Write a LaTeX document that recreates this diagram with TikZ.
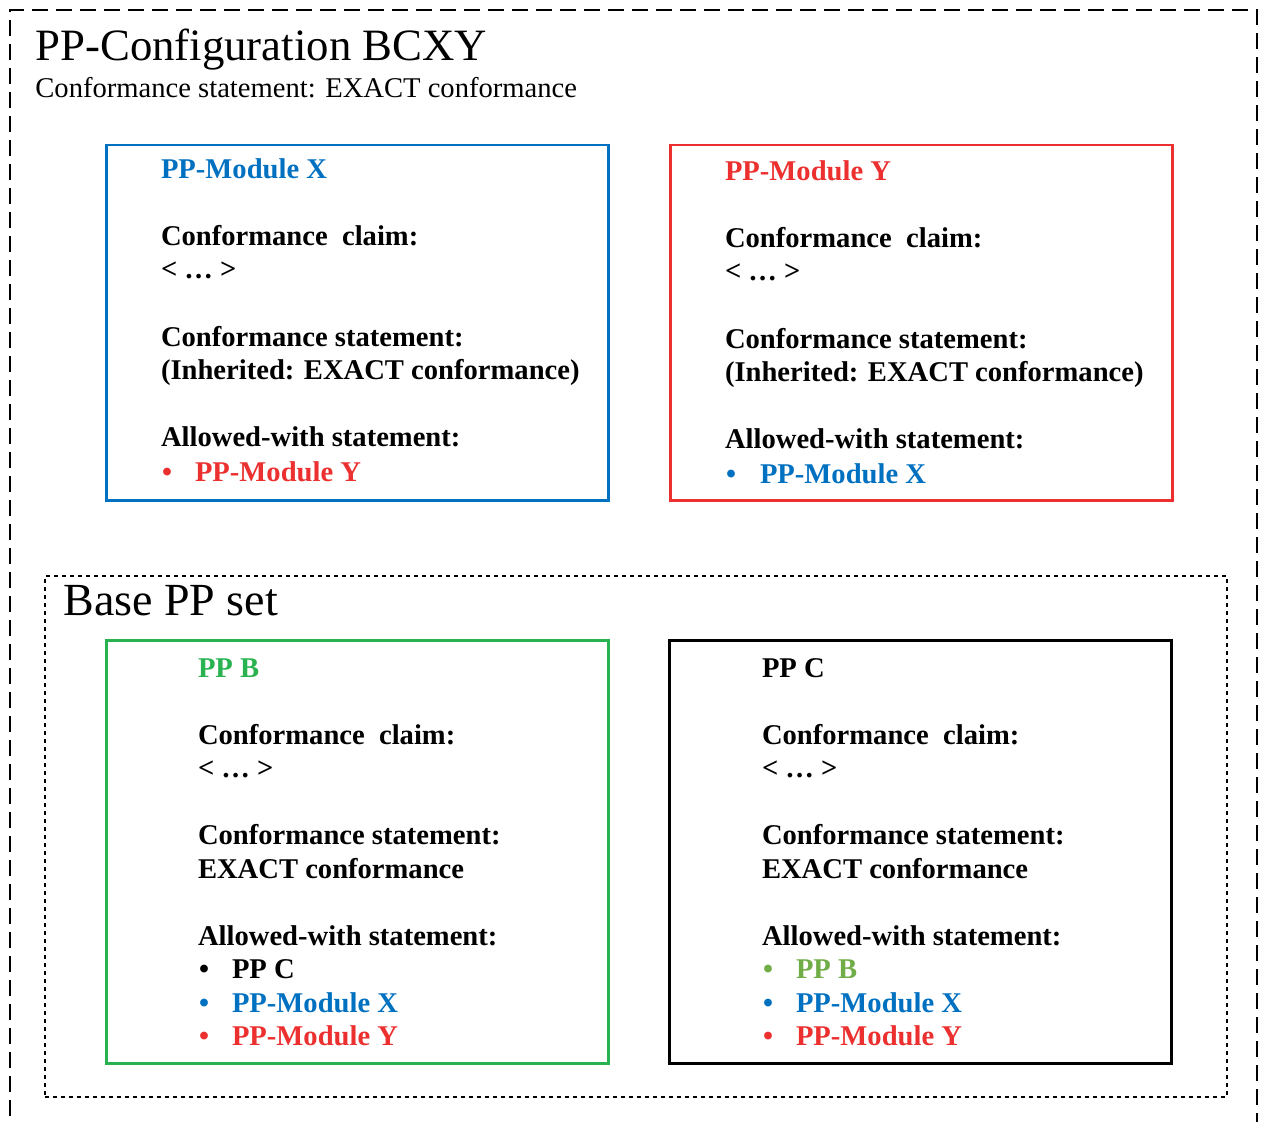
\documentclass[tikz,border=0pt]{standalone}
\usepackage{fontspec}
\setmainfont{Liberation Serif}
\definecolor{pblue}{RGB}{0,112,192}
\definecolor{pred}{RGB}{236,48,48}
\definecolor{pgreen}{RGB}{40,178,80}
\definecolor{plgreen}{RGB}{112,173,71}
\begin{document}
\begin{tikzpicture}[x=0.5pt,y=-0.5pt,
  txt/.style={anchor=base west, inner sep=0pt, outer sep=0pt, font=\fontsize{14.3}{16}\selectfont\bfseries},
  ppbox/.style={draw=#1, line width=1.25pt, anchor=north west, inner sep=0pt, minimum width=251pt},
  outerdash/.style={line width=1.1pt, dash pattern=on 8pt off 4pt},
  innerdot/.style={draw, line width=1.1pt, dash pattern=on 2pt off 2pt, anchor=north west, inner sep=0pt, minimum width=591pt, minimum height=260.5pt}]
\useasboundingbox (0,0) rectangle (1262,1122);
% outer configuration frame (open at the bottom)
\coordinate (o1) at (10,1140);
\coordinate (o2) at (10,10);
\coordinate (o3) at (1257,10);
\coordinate (o4) at (1257,1140);
\draw[outerdash] (o1) -- (o2) -- (o3) -- (o4);
\node[anchor=base west, inner sep=0pt, font=\fontsize{22.4}{24}\selectfont] (title) at (35,61) {PP-Configuration BCXY};
\node[anchor=base west, inner sep=0pt, font=\fontsize{14.3}{16}\selectfont] (subtitle) at (35,98) {Conformance statement: EXACT conformance};

% PP-Module X
\node[ppbox=pblue, minimum height=177.5pt] (boxX) at (105,144) {};
\node[txt, text=pblue] (x1) at (161,179) {PP-Module X};
\node[txt] (x2) at (161,246) {Conformance\ \ claim:};
\node[txt] (x3) at (161,279) {< … >};
\node[txt] (x4) at (161,347) {Conformance statement:};
\node[txt] (x5) at (161,380) {(Inherited: EXACT conformance)};
\node[txt] (x6) at (161,447) {Allowed-with statement:};
\node[txt, text=pred] (x7b) at (162,481) {•};
\node[txt, text=pred] (x7) at (195,481) {PP-Module Y};

% PP-Module Y
\node[ppbox=pred, minimum height=177.5pt] (boxY) at (669,144) {};
\node[txt, text=pred] (y1) at (725,181) {PP-Module Y};
\node[txt] (y2) at (725,248) {Conformance\ \ claim:};
\node[txt] (y3) at (725,281) {< … >};
\node[txt] (y4) at (725,349) {Conformance statement:};
\node[txt] (y5) at (725,382) {(Inherited: EXACT conformance)};
\node[txt] (y6) at (725,449) {Allowed-with statement:};
\node[txt, text=pblue] (y7b) at (726,483) {•};
\node[txt, text=pblue] (y7) at (760,483) {PP-Module X};

% Base PP set
\node[innerdot] (base) at (43.5,574.5) {};
\node[anchor=base west, inner sep=0pt, font=\fontsize{23}{25}\selectfont] (basetitle) at (63,615) {Base PP set};

% PP B
\node[ppbox=pgreen, minimum height=211.5pt] (boxB) at (105,639) {};
\node[txt, text=pgreen] (b1) at (198,677) {PP B};
\node[txt] (b2) at (198,744) {Conformance\ \ claim:};
\node[txt] (b3) at (198,777) {< … >};
\node[txt] (b4) at (198,844) {Conformance statement:};
\node[txt] (b5) at (198,878) {EXACT conformance};
\node[txt] (b6) at (198,945) {Allowed-with statement:};
\node[txt] (b7b) at (199,978) {•};
\node[txt] (b7) at (232,978) {PP C};
\node[txt, text=pblue] (b8b) at (199,1012) {•};
\node[txt, text=pblue] (b8) at (232,1012) {PP-Module X};
\node[txt, text=pred] (b9b) at (199,1045) {•};
\node[txt, text=pred] (b9) at (232,1045) {PP-Module Y};

% PP C
\node[ppbox=black, minimum height=211.5pt] (boxC) at (668,639) {};
\node[txt] (c1) at (762,677) {PP C};
\node[txt] (c2) at (762,744) {Conformance\ \ claim:};
\node[txt] (c3) at (762,777) {< … >};
\node[txt] (c4) at (762,844) {Conformance statement:};
\node[txt] (c5) at (762,878) {EXACT conformance};
\node[txt] (c6) at (762,945) {Allowed-with statement:};
\node[txt, text=plgreen] (c7b) at (763,978) {•};
\node[txt, text=plgreen] (c7) at (796,978) {PP B};
\node[txt, text=pblue] (c8b) at (763,1012) {•};
\node[txt, text=pblue] (c8) at (796,1012) {PP-Module X};
\node[txt, text=pred] (c9b) at (763,1045) {•};
\node[txt, text=pred] (c9) at (796,1045) {PP-Module Y};
\end{tikzpicture}
\end{document}
